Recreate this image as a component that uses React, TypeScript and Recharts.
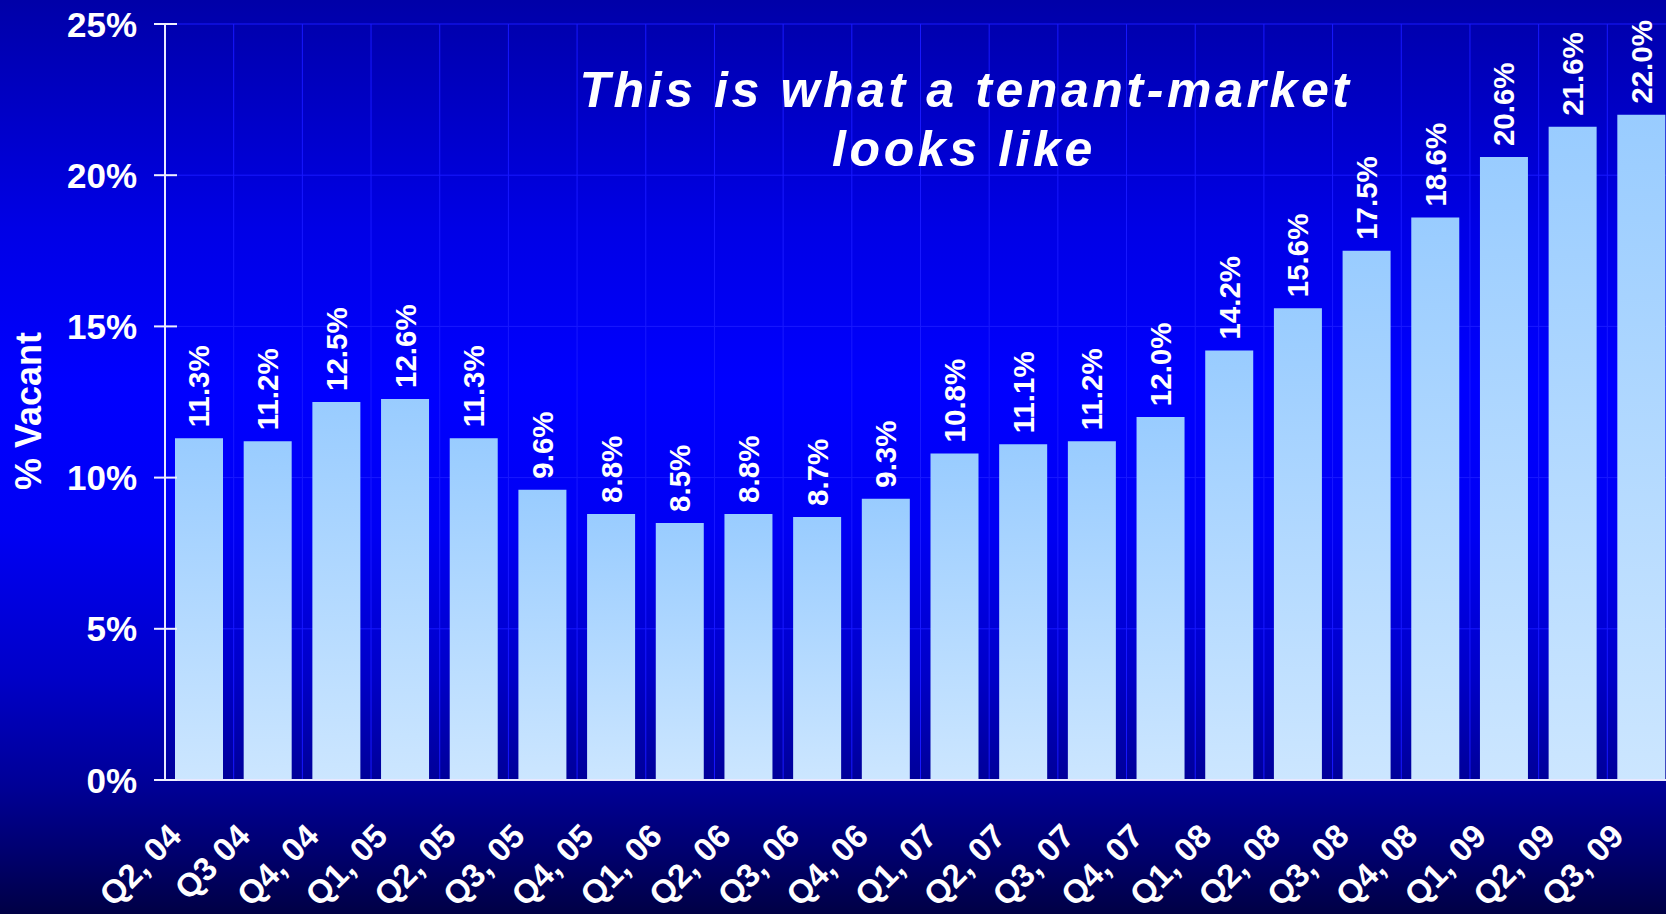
import React from 'react';
import { BarChart, Bar, XAxis, YAxis, CartesianGrid, LabelList } from 'recharts';

const quarters = [
  'Q2, 04', 'Q3 04', 'Q4, 04', 'Q1, 05', 'Q2, 05', 'Q3, 05', 'Q4, 05', 'Q1, 06',
  'Q2, 06', 'Q3, 06', 'Q4, 06', 'Q1, 07', 'Q2, 07', 'Q3, 07', 'Q4, 07', 'Q1, 08',
  'Q2, 08', 'Q3, 08', 'Q4, 08', 'Q1, 09', 'Q2, 09', 'Q3, 09',
];
const vacancy = [
  11.3, 11.2, 12.5, 12.6, 11.3, 9.6, 8.8, 8.5,
  8.8, 8.7, 9.3, 10.8, 11.1, 11.2, 12.0, 14.2,
  15.6, 17.5, 18.6, 20.6, 21.6, 22.0,
];
const yTicks = [0, 5, 10, 15, 20, 25];
const titleLines = ['This is what a tenant-market', 'looks like'];
const yAxisTitle = '% Vacant';

const data = quarters.map((q, i) => ({ q, v: vacancy[i] }));

const FONT = '"Liberation Sans", Arial, sans-serif';

const YTick = (props: any) => {
  const { x, y, payload } = props;
  const ax = x + 28;
  return (
    <g>
      <line x1={ax - 11} x2={ax + 12} y1={y} y2={y} stroke="#f0f0ff" strokeWidth={2} />
      <text x={x} y={y} dy="0.36em" textAnchor="end" fill="#ffffff" fontSize={35} fontWeight="bold" fontFamily={FONT}>
        {payload.value}%
      </text>
    </g>
  );
};

const XTick = (props: any) => {
  const { x, y, payload } = props;
  const px = x - 16;
  const py = y + 58;
  return (
    <text x={px} y={py} transform={`rotate(-45, ${px}, ${py})`} textAnchor="end" fill="#ffffff" fontSize={33} fontWeight="bold" fontFamily={FONT}>
      {payload.value}
    </text>
  );
};

const BarLabel = (props: any) => {
  const { x, y, width, value } = props;
  const cx = x + width / 2 + 10.5;
  const ty = y - 11;
  return (
    <text x={cx} y={ty} transform={`rotate(-90, ${cx}, ${ty})`} textAnchor="start" fill="#ffffff" fontSize={29.5} fontWeight="bold" fontFamily={FONT}>
      {Number(value).toFixed(1)}%
    </text>
  );
};

const vGen = ({ offset }: any) => {
  const n = quarters.length;
  const out: number[] = [];
  for (let i = 0; i <= n; i++) out.push(offset.left + (i * offset.width) / n);
  return out;
};

export default function App() {
  return (
    <div
      style={{
        position: 'fixed',
        left: 0,
        top: 0,
        width: 1666,
        height: 914,
        overflow: 'hidden',
        background:
          'linear-gradient(to bottom, #0000a8 0%, #0000e6 25%, #0000ff 42%, #0000f4 58%, #0000c8 74%, #000096 86%, #000070 93%, #000045 100%)',
      }}
    >
      <BarChart width={1676} height={914} data={data} margin={{ top: 24, right: 0, bottom: 0, left: 0 }}>
        <defs>
          <linearGradient id="barGrad" x1="0" y1="0" x2="0" y2="1">
            <stop offset="0%" stopColor="#99ccff" />
            <stop offset="100%" stopColor="#cce6ff" />
          </linearGradient>
        </defs>
        <CartesianGrid stroke="#1818ff" strokeWidth={1} verticalCoordinatesGenerator={vGen} />
        <XAxis
          dataKey="q"
          interval={0}
          height={134}
          tickSize={0}
          tickMargin={0}
          tickLine={false}
          axisLine={{ stroke: '#e8e8ff', strokeWidth: 2 }}
          tick={<XTick />}
        />
        <YAxis
          domain={[0, 25]}
          ticks={yTicks}
          width={165}
          tickSize={0}
          tickMargin={28}
          tickLine={false}
          axisLine={{ stroke: '#e8e8ff', strokeWidth: 2 }}
          tick={<YTick />}
        />
        <Bar dataKey="v" fill="url(#barGrad)" barSize={48} isAnimationActive={false}>
          <LabelList dataKey="v" content={<BarLabel />} />
        </Bar>
      </BarChart>
      <svg width={1666} height={914} style={{ position: 'absolute', left: 0, top: 0, pointerEvents: 'none' }}>
        <text x={966} y={107} textAnchor="middle" fill="#ffffff" fontSize={50} fontWeight="bold" fontStyle="italic" fontFamily={FONT} letterSpacing={3.6}>
          {titleLines[0]}
        </text>
        <text x={964} y={166} textAnchor="middle" fill="#ffffff" fontSize={50} fontWeight="bold" fontStyle="italic" fontFamily={FONT} letterSpacing={3.6}>
          {titleLines[1]}
        </text>
        <text x={41} y={411} transform="rotate(-90, 41, 411)" textAnchor="middle" fill="#ffffff" fontSize={36} fontWeight="bold" fontFamily={FONT}>
          {yAxisTitle}
        </text>
      </svg>
    </div>
  );
}
